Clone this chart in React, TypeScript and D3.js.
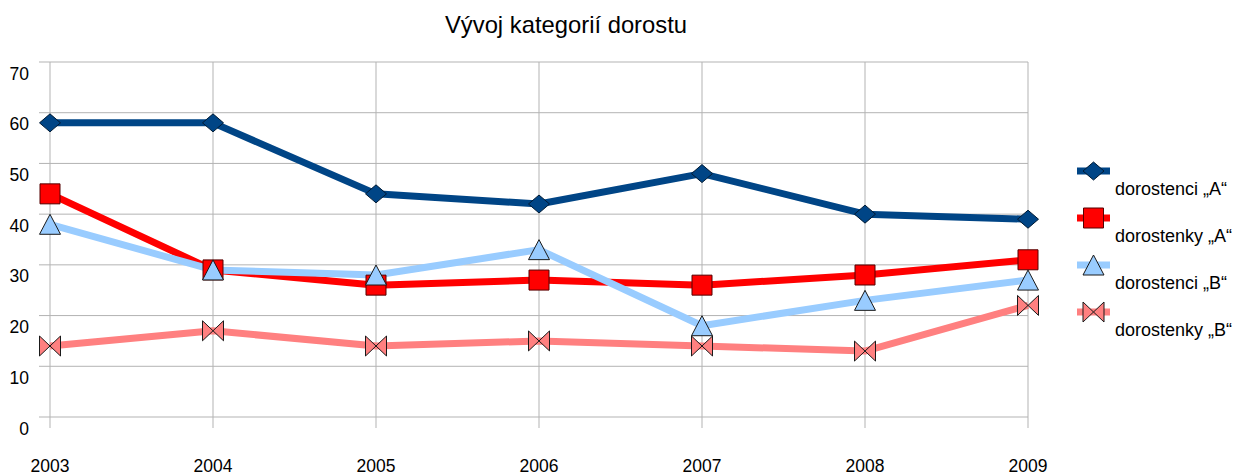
import React from "react";
import * as d3 from "d3";

const years = ["2003", "2004", "2005", "2006", "2007", "2008", "2009"];
const dorostenciA = [58, 58, 44, 42, 48, 40, 39];
const dorostenkyA = [44, 29, 26, 27, 26, 28, 31];
const dorostenciB = [38, 29, 28, 33, 18, 23, 27];
const dorostenkyB = [14, 17, 14, 15, 14, 13, 22];
const yTicks = [0, 10, 20, 30, 40, 50, 60, 70];
const seriesNames = ["dorostenci „A“", "dorostenky „A“", "dorostenci „B“", "dorostenky „B“"];
const title = "Vývoj kategorií dorostu";

const W = 1239;
const H = 476;
const left = 50;
const right = 1028;
const top = 62;
const bottom = 417;

type Shape = "diamond" | "square" | "triangle" | "bowtie";

const series = [
  { name: seriesNames[0], values: dorostenciA, color: "#004586", stroke: "#001a33", shape: "diamond" as Shape },
  { name: seriesNames[1], values: dorostenkyA, color: "#ff0000", stroke: "#550000", shape: "square" as Shape },
  { name: seriesNames[2], values: dorostenciB, color: "#99ccff", stroke: "#1a1a1a", shape: "triangle" as Shape },
  { name: seriesNames[3], values: dorostenkyB, color: "#ff8080", stroke: "#1a1a1a", shape: "bowtie" as Shape },
];

function markerPath(shape: Shape, x: number, y: number): string {
  switch (shape) {
    case "diamond":
      return `M${x},${y - 9}L${x + 10.5},${y}L${x},${y + 9}L${x - 10.5},${y}Z`;
    case "square":
      return `M${x - 10},${y - 10}H${x + 10}V${y + 10}H${x - 10}Z`;
    case "triangle":
      return `M${x},${y - 10}L${x + 10.5},${y + 10}L${x - 10.5},${y + 10}Z`;
    case "bowtie":
      return `M${x - 10.5},${y - 10}L${x},${y}L${x + 10.5},${y - 10}V${y + 10}L${x},${y}L${x - 10.5},${y + 10}Z`;
  }
}

export default function App() {
  const x = d3.scalePoint<string>().domain(years).range([left, right]);
  const y = d3.scaleLinear().domain([0, 70]).range([bottom, top]);
  const line = d3
    .line<number>()
    .x((_, i) => x(years[i]) as number)
    .y((d) => y(d));

  const font = "'Liberation Sans', Arial, sans-serif";
  const legendX = 1077;
  const legendY0 = 171;
  const legendStep = 47;

  return (
    <svg
      width={W}
      height={H}
      style={{ position: "absolute", left: 0, top: 0, display: "block", background: "#fff" }}
      fontFamily={font}
    >
      <rect x={0} y={0} width={W} height={H} fill="#fff" />
      <text x={566} y={33} textAnchor="middle" fontSize={23.8} fill="#000">
        {title}
      </text>
      {yTicks.map((t) => (
        <line key={"h" + t} x1={39} x2={right} y1={y(t)} y2={y(t)} stroke="#b3b3b3" strokeWidth={1} />
      ))}
      {years.map((yr) => (
        <line
          key={"v" + yr}
          x1={x(yr)}
          x2={x(yr)}
          y1={top}
          y2={bottom + 11}
          stroke="#b3b3b3"
          strokeWidth={1}
        />
      ))}
      {yTicks.map((t) => (
        <text key={"yl" + t} x={29} y={y(t) + 17.5} textAnchor="end" fontSize={17.5} fill="#000">
          {t}
        </text>
      ))}
      {years.map((yr) => (
        <text key={"xl" + yr} x={x(yr)} y={472} textAnchor="middle" fontSize={17.5} fill="#000">
          {yr}
        </text>
      ))}
      {series.map((s) => (
        <path
          key={"l" + s.name}
          d={line(s.values) || ""}
          fill="none"
          stroke={s.color}
          strokeWidth={7}
          strokeLinejoin="round"
        />
      ))}
      {series.map((s) =>
        s.values.map((v, i) => (
          <path
            key={"m" + s.name + i}
            d={markerPath(s.shape, x(years[i]) as number, y(v))}
            fill={s.color}
            stroke={s.stroke}
            strokeWidth={1}
          />
        ))
      )}
      {series.map((s, i) => {
        const ly = legendY0 + i * legendStep;
        return (
          <g key={"lg" + s.name}>
            <line x1={legendX} x2={legendX + 33} y1={ly} y2={ly} stroke={s.color} strokeWidth={7} />
            <path d={markerPath(s.shape, legendX + 16.5, ly)} fill={s.color} stroke={s.stroke} strokeWidth={1} />
            <text x={1115} y={ly + 24} fontSize={18} fill="#000">
              {s.name}
            </text>
          </g>
        );
      })}
    </svg>
  );
}
